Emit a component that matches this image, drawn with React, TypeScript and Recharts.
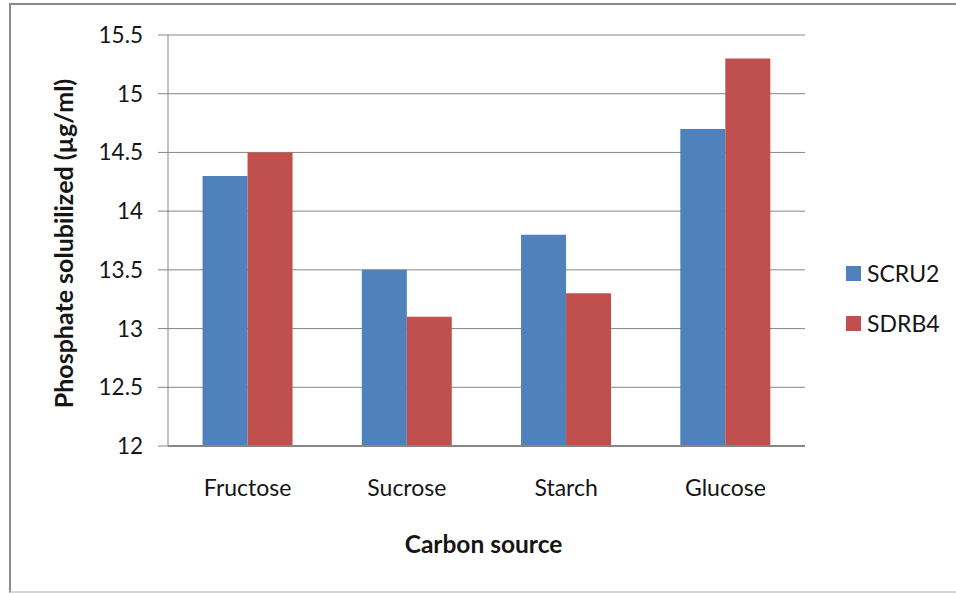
import { BarChart, Bar, XAxis, YAxis, CartesianGrid, Legend, Label } from "recharts";

const categories = ["Fructose", "Sucrose", "Starch", "Glucose"];
const scru2 = [14.3, 13.5, 13.8, 14.7];
const sdrb4 = [14.5, 13.1, 13.3, 15.3];
const yTicks = [12, 12.5, 13, 13.5, 14, 14.5, 15, 15.5];

const data = categories.map((name, i) => ({ name, SCRU2: scru2[i], SDRB4: sdrb4[i] }));

const GRID = "#868686";
const TEXT = "#151515";

function YTitle({ viewBox }: any) {
  const x = viewBox.x + 63;
  const y = viewBox.y + viewBox.height / 2 + 3;
  return (
    <text
      x={x}
      y={y}
      transform={`rotate(-90, ${x}, ${y})`}
      textAnchor="middle"
      dominantBaseline="central"
      fontSize={25}
      fontWeight={700}
      fill={TEXT}
    >
      Phosphate solubilized (µg/ml)
    </text>
  );
}

function XTitle({ viewBox }: any) {
  return (
    <text
      x={viewBox.x + viewBox.width / 2 - 3}
      y={viewBox.y + 107}
      textAnchor="middle"
      fontSize={24.5}
      fontWeight={700}
      fill={TEXT}
    >
      Carbon source
    </text>
  );
}

function LegendBox({ payload }: any) {
  return (
    <div>
      {(payload || []).map((p: any) => (
        <div key={p.value} style={{ height: 50, display: "flex", alignItems: "center" }}>
          <span style={{ width: 15, height: 15, background: p.color, marginRight: 6, display: "inline-block" }} />
          <span style={{ fontSize: 23, color: TEXT }}>{p.value}</span>
        </div>
      ))}
    </div>
  );
}

export default function App() {
  return (
    <div
      style={{
        position: "absolute",
        left: 0,
        top: 0,
        width: 956,
        height: 593,
        background: "#fff",
        fontFamily: "Lato, 'Open Sans', sans-serif",
        overflow: "hidden",
      }}
    >
      <div
        style={{
          position: "absolute",
          left: 9,
          top: 3,
          width: 960,
          height: 586,
          borderTop: "2px solid #8a8a8a",
          borderLeft: "2px solid #8a8a8a",
          borderBottom: "2px solid #d4d4d4",
        }}
      />
      <BarChart
        width={956}
        height={593}
        data={data}
        margin={{ top: 35, right: 151, bottom: 0, left: 0 }}
        barCategoryGap="21.7%"
        barGap={0}
        style={{ position: "absolute", left: 0, top: 0 }}
      >
        <CartesianGrid vertical={false} stroke={GRID} strokeWidth={1} />
        <XAxis
          dataKey="name"
          axisLine={{ stroke: GRID, strokeWidth: 2 }}
          tickLine={false}
          tickSize={0}
          tickMargin={34}
          tick={{ fill: TEXT, fontSize: 23 }}
          height={147}
        >
          <Label content={<XTitle />} />
        </XAxis>
        <YAxis
          domain={[12, 15.5]}
          ticks={yTicks}
          allowDataOverflow
          width={168}
          axisLine={{ stroke: GRID }}
          tickLine={{ stroke: GRID }}
          tickSize={10}
          tickMargin={15}
          tick={{ fill: TEXT, fontSize: 22.5 }}
        >
          <Label content={<YTitle />} />
        </YAxis>
        <Legend
          layout="vertical"
          align="center"
          verticalAlign="middle"
          content={<LegendBox />}
          wrapperStyle={{ left: 846, top: 248, width: 110 }}
        />
        <Bar dataKey="SCRU2" name="SCRU2" fill="#4F81BD" isAnimationActive={false} />
        <Bar dataKey="SDRB4" name="SDRB4" fill="#C0504D" isAnimationActive={false} />
      </BarChart>
    </div>
  );
}
